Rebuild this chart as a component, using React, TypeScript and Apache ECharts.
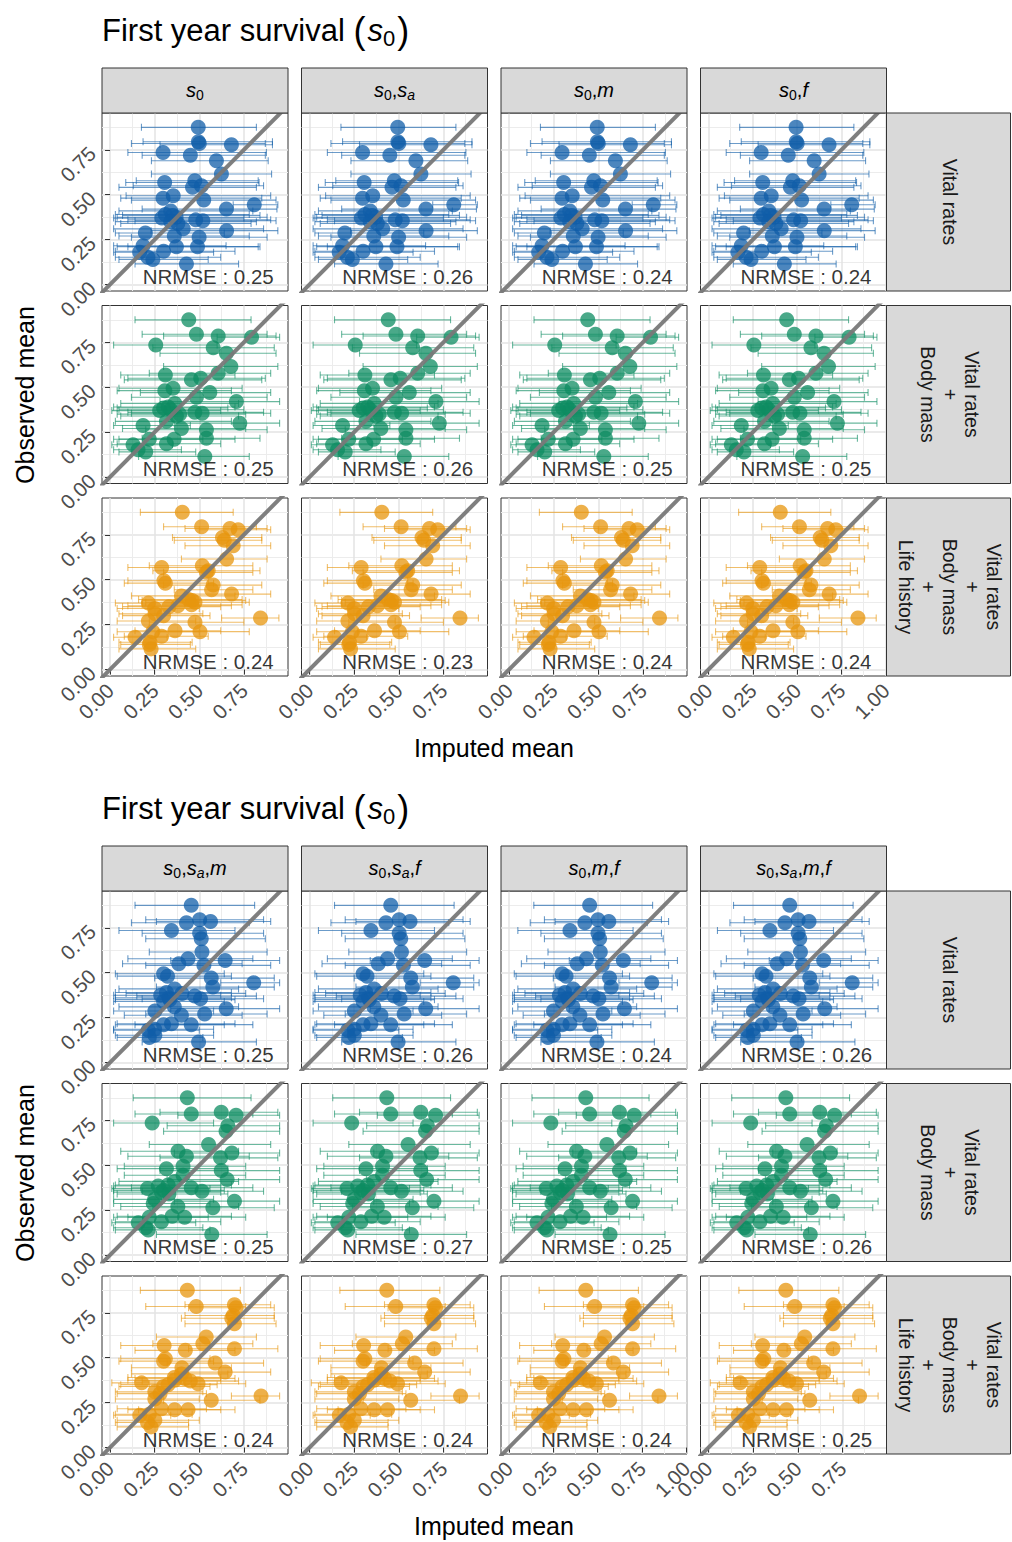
import React, { useEffect, useRef } from 'react';
import * as echarts from 'echarts';

const FONT = '"Liberation Sans", Arial, Helvetica, sans-serif';

// Observed mean (same species set in every panel)
const observed = [0.875, 0.795, 0.785, 0.778, 0.735, 0.72, 0.689, 0.615, 0.578, 0.568, 0.55, 0.541, 0.494, 0.481, 0.47, 0.444, 0.42, 0.41, 0.39, 0.385, 0.375, 0.37, 0.36, 0.355, 0.35, 0.34, 0.31, 0.30, 0.287, 0.27, 0.263, 0.216, 0.211, 0.21, 0.185, 0.18, 0.152, 0.14, 0.115];

// Figure 1 imputed means and interval bounds
const f1VitalMean = [0.494, 0.495, 0.50, 0.68, 0.297, 0.45, 0.596, 0.624, 0.475, 0.306, 0.512, 0.462, 0.354, 0.297, 0.525, 0.808, 0.652, 0.34, 0.31, 0.35, 0.37, 0.29, 0.48, 0.52, 0.34, 0.38, 0.41, 0.653, 0.198, 0.36, 0.499, 0.185, 0.372, 0.49, 0.30, 0.166, 0.212, 0.24, 0.428];
const f1VitalLo = [0.176, 0.185, 0.12, 0.28, 0.10, 0.18, 0.232, 0.232, 0.147, 0.088, 0.13, 0.05, 0.09, 0.06, 0.12, 0.69, 0.18, 0.05, 0.03, 0.07, 0.04, 0.02, 0.10, 0.14, 0.03, 0.06, 0.02, 0.23, 0.03, 0.05, 0.12, 0.02, 0.04, 0.10, 0.03, 0.02, 0.03, 0.05, 0.14];
const f1VitalHi = [0.82, 0.91, 0.87, 0.91, 0.876, 0.87, 0.886, 0.905, 0.83, 0.835, 0.86, 0.82, 0.90, 0.85, 0.93, 0.94, 0.935, 0.80, 0.78, 0.84, 0.88, 0.75, 0.90, 0.93, 0.82, 0.79, 0.86, 0.94, 0.64, 0.78, 0.88, 0.65, 0.83, 0.84, 0.70, 0.58, 0.62, 0.55, 0.72];

const f1BodyMean = [0.441, 0.484, 0.606, 0.793, 0.256, 0.578, 0.652, 0.677, 0.606, 0.31, 0.508, 0.456, 0.353, 0.307, 0.559, 0.484, 0.708, 0.363, 0.325, 0.30, 0.34, 0.278, 0.475, 0.516, 0.39, 0.372, 0.316, 0.727, 0.185, 0.40, 0.54, 0.54, 0.359, 0.22, 0.316, 0.129, 0.157, 0.20, 0.531];
const f1BodyLo = [0.14, 0.18, 0.30, 0.60, 0.02, 0.24, 0.28, 0.30, 0.22, 0.06, 0.10, 0.08, 0.05, 0.04, 0.17, 0.12, 0.28, 0.06, 0.02, 0.04, 0.05, 0.01, 0.10, 0.12, 0.04, 0.06, 0.03, 0.36, 0.02, 0.07, 0.20, 0.18, 0.05, 0.02, 0.04, 0.01, 0.02, 0.05, 0.16];
const f1BodyHi = [0.79, 0.88, 0.93, 0.95, 0.60, 0.92, 0.93, 0.94, 0.90, 0.70, 0.87, 0.85, 0.74, 0.68, 0.90, 0.88, 0.95, 0.72, 0.70, 0.66, 0.75, 0.62, 0.86, 0.90, 0.76, 0.72, 0.68, 0.95, 0.45, 0.76, 0.88, 0.84, 0.70, 0.52, 0.62, 0.35, 0.40, 0.48, 0.78];

const f1LifeMean = [0.405, 0.513, 0.672, 0.718, 0.63, 0.64, 0.69, 0.653, 0.517, 0.289, 0.55, 0.54, 0.302, 0.31, 0.578, 0.569, 0.681, 0.40, 0.44, 0.46, 0.476, 0.215, 0.457, 0.38, 0.33, 0.25, 0.252, 0.30, 0.843, 0.215, 0.476, 0.364, 0.504, 0.24, 0.289, 0.14, 0.224, 0.22, 0.23];
const f1LifeLo = [0.17, 0.30, 0.42, 0.50, 0.35, 0.36, 0.42, 0.40, 0.22, 0.10, 0.24, 0.30, 0.10, 0.08, 0.30, 0.36, 0.42, 0.12, 0.16, 0.18, 0.20, 0.03, 0.18, 0.10, 0.07, 0.04, 0.05, 0.07, 0.625, 0.04, 0.22, 0.14, 0.27, 0.04, 0.08, 0.02, 0.05, 0.06, 0.05];
const f1LifeHi = [0.69, 0.82, 0.88, 0.90, 0.85, 0.85, 0.90, 0.88, 0.80, 0.58, 0.84, 0.80, 0.55, 0.58, 0.85, 0.80, 0.90, 0.70, 0.74, 0.76, 0.78, 0.48, 0.74, 0.68, 0.62, 0.50, 0.52, 0.56, 0.946, 0.48, 0.75, 0.62, 0.78, 0.50, 0.55, 0.32, 0.46, 0.45, 0.48];

// Figure 2 imputed means and interval bounds
const f2VitalMean = [0.455, 0.502, 0.563, 0.428, 0.344, 0.502, 0.511, 0.515, 0.437, 0.645, 0.385, 0.526, 0.30, 0.322, 0.567, 0.805, 0.576, 0.362, 0.316, 0.403, 0.284, 0.474, 0.33, 0.507, 0.335, 0.30, 0.36, 0.651, 0.251, 0.53, 0.40, 0.344, 0.455, 0.30, 0.25, 0.214, 0.251, 0.22, 0.496];
const f2VitalLo = [0.14, 0.20, 0.26, 0.12, 0.05, 0.18, 0.20, 0.22, 0.10, 0.34, 0.07, 0.20, 0.03, 0.04, 0.25, 0.62, 0.26, 0.05, 0.03, 0.09, 0.02, 0.15, 0.03, 0.18, 0.03, 0.02, 0.05, 0.34, 0.02, 0.20, 0.08, 0.04, 0.14, 0.03, 0.02, 0.02, 0.03, 0.04, 0.18];
const f2VitalHi = [0.81, 0.86, 0.90, 0.78, 0.70, 0.86, 0.87, 0.88, 0.80, 0.95, 0.74, 0.90, 0.64, 0.68, 0.92, 0.95, 0.92, 0.72, 0.68, 0.76, 0.62, 0.82, 0.68, 0.86, 0.70, 0.64, 0.72, 0.95, 0.58, 0.88, 0.74, 0.70, 0.80, 0.64, 0.58, 0.50, 0.58, 0.52, 0.82];

const f2BodyMean = [0.433, 0.623, 0.455, 0.706, 0.236, 0.66, 0.65, 0.552, 0.381, 0.682, 0.428, 0.619, 0.409, 0.316, 0.623, 0.409, 0.656, 0.362, 0.325, 0.27, 0.455, 0.21, 0.30, 0.515, 0.288, 0.33, 0.25, 0.697, 0.242, 0.38, 0.576, 0.348, 0.418, 0.22, 0.288, 0.158, 0.20, 0.214, 0.57];
const f2BodyLo = [0.13, 0.28, 0.14, 0.38, 0.02, 0.32, 0.30, 0.22, 0.06, 0.36, 0.10, 0.28, 0.08, 0.04, 0.28, 0.08, 0.32, 0.05, 0.03, 0.02, 0.12, 0.01, 0.02, 0.18, 0.02, 0.04, 0.02, 0.36, 0.02, 0.06, 0.24, 0.04, 0.10, 0.02, 0.03, 0.01, 0.02, 0.03, 0.26];
const f2BodyHi = [0.79, 0.94, 0.80, 0.95, 0.58, 0.95, 0.95, 0.90, 0.72, 0.95, 0.78, 0.94, 0.76, 0.66, 0.95, 0.76, 0.95, 0.72, 0.68, 0.62, 0.80, 0.56, 0.64, 0.86, 0.62, 0.66, 0.58, 0.95, 0.56, 0.72, 0.92, 0.68, 0.76, 0.55, 0.62, 0.48, 0.52, 0.56, 0.88];

const f2LifeMean = [0.433, 0.697, 0.483, 0.706, 0.69, 0.682, 0.697, 0.539, 0.52, 0.303, 0.697, 0.422, 0.31, 0.30, 0.589, 0.403, 0.645, 0.40, 0.36, 0.42, 0.362, 0.45, 0.177, 0.493, 0.325, 0.30, 0.251, 0.28, 0.846, 0.251, 0.567, 0.288, 0.362, 0.437, 0.22, 0.167, 0.251, 0.21, 0.23];
const f2LifeLo = [0.17, 0.42, 0.20, 0.44, 0.42, 0.40, 0.42, 0.26, 0.24, 0.06, 0.44, 0.14, 0.06, 0.05, 0.32, 0.12, 0.38, 0.12, 0.10, 0.14, 0.10, 0.18, 0.01, 0.22, 0.06, 0.05, 0.03, 0.04, 0.68, 0.03, 0.30, 0.04, 0.10, 0.16, 0.03, 0.02, 0.04, 0.03, 0.04];
const f2LifeHi = [0.73, 0.90, 0.76, 0.92, 0.92, 0.92, 0.93, 0.82, 0.80, 0.56, 0.94, 0.70, 0.56, 0.58, 0.86, 0.68, 0.90, 0.66, 0.62, 0.70, 0.62, 0.72, 0.42, 0.76, 0.60, 0.56, 0.52, 0.54, 0.95, 0.50, 0.84, 0.54, 0.62, 0.70, 0.46, 0.34, 0.50, 0.44, 0.44];

// NRMSE labels [row][column]
const f1Nrmse = [['0.25', '0.26', '0.24', '0.24'], ['0.25', '0.26', '0.25', '0.25'], ['0.24', '0.23', '0.24', '0.24']];
const f2Nrmse = [['0.25', '0.26', '0.24', '0.26'], ['0.25', '0.27', '0.25', '0.26'], ['0.24', '0.24', '0.24', '0.25']];

// Facet labels
const f1Columns = ['{i|s}{sub|0}', '{i|s}{sub|0}{n|,}{i|s}{subi|a}', '{i|s}{sub|0}{n|,}{i|m}', '{i|s}{sub|0}{n|,}{i|f}'];
const f2Columns = ['{i|s}{sub|0}{n|,}{i|s}{subi|a}{n|,}{i|m}', '{i|s}{sub|0}{n|,}{i|s}{subi|a}{n|,}{i|f}', '{i|s}{sub|0}{n|,}{i|m}{n|,}{i|f}', '{i|s}{sub|0}{n|,}{i|s}{subi|a}{n|,}{i|m}{n|,}{i|f}'];
const rowLabels = ['Vital rates', 'Vital rates\n+\nBody mass', 'Vital rates\n+\nBody mass\n+\nLife history'];

// Axis ticks
const majorTicks = [0, 0.25, 0.5, 0.75];
const majorTicksWithOne = [0, 0.25, 0.5, 0.75, 1.0];
const minorTicks = [0.125, 0.375, 0.625, 0.875];
// which column of each figure reaches 1.00 on its free x scale
const f1ColReachesOne = [false, false, false, true];
const f2ColReachesOne = [false, false, true, false];

const rowColors = ['rgb(16,94,168)', 'rgb(14,140,98)', 'rgb(231,150,14)'];

const X_MIN = -0.045;
const Y_MIN = -0.036;
const Y_MAX = 0.955;

const figures = [
  { mean: [f1VitalMean, f1BodyMean, f1LifeMean], lo: [f1VitalLo, f1BodyLo, f1LifeLo], hi: [f1VitalHi, f1BodyHi, f1LifeHi], nrmse: f1Nrmse, cols: f1Columns, one: f1ColReachesOne },
  { mean: [f2VitalMean, f2BodyMean, f2LifeMean], lo: [f2VitalLo, f2BodyLo, f2LifeLo], hi: [f2VitalHi, f2BodyHi, f2LifeHi], nrmse: f2Nrmse, cols: f2Columns, one: f2ColReachesOne },
];

// Layout
const PANEL_W = 186;
const PANEL_H = 178;
const COL_LEFT = [102, 301.5, 501, 700.5];
const ROW_TOP = [113, 305.5, 498];
const FIG_OFF = [0, 778];

function buildOption() {
  const grid: any[] = [];
  const xAxis: any[] = [];
  const yAxis: any[] = [];
  const series: any[] = [];
  const graphic: any[] = [];

  const stripRich = {
    i: { fontFamily: FONT, fontSize: 20, fontStyle: 'italic', lineHeight: 24, color: '#1A1A1A' },
    n: { fontFamily: FONT, fontSize: 20, lineHeight: 24, color: '#1A1A1A' },
    sub: { fontFamily: FONT, fontSize: 14, lineHeight: 15, verticalAlign: 'bottom', color: '#1A1A1A' },
    subi: { fontFamily: FONT, fontSize: 14, fontStyle: 'italic', lineHeight: 15, verticalAlign: 'bottom', color: '#1A1A1A' },
  };
  const titleRich = {
    t: { fontFamily: FONT, fontSize: 31, lineHeight: 38, color: '#000' },
    p: { fontFamily: FONT, fontSize: 36, lineHeight: 38, color: '#000' },
    ti: { fontFamily: FONT, fontSize: 31, fontStyle: 'italic', lineHeight: 38, color: '#000', padding: [0, 0, 0, 2] },
    ts: { fontFamily: FONT, fontSize: 22, lineHeight: 17, verticalAlign: 'bottom', color: '#000', padding: [0, 2, 0, 0] },
  };

  figures.forEach((fig, f) => {
    const off = FIG_OFF[f];
    graphic.push({
      type: 'text', x: 102, y: 30 + off, z: 10,
      style: { text: '{t|First year survival }{p|(}{ti|s}{ts|0}{p|)}', rich: titleRich, verticalAlign: 'middle', align: 'left' },
    });
    graphic.push({
      type: 'text', x: 494, y: 748 + off, z: 10,
      style: { text: 'Imputed mean', fontFamily: FONT, fontSize: 25, fill: '#000', align: 'center', verticalAlign: 'middle' },
    });
    graphic.push({
      type: 'text', x: 25, y: 395 + off, rotation: Math.PI / 2, z: 10,
      style: { text: 'Observed mean', fontFamily: FONT, fontSize: 25, fill: '#000', align: 'center', verticalAlign: 'middle' },
    });
    for (let c = 0; c < 4; c++) {
      graphic.push({
        type: 'rect', z: 5,
        shape: { x: COL_LEFT[c], y: 68 + off, width: PANEL_W, height: 45 },
        style: { fill: '#D9D9D9', stroke: '#333333', lineWidth: 1 },
      });
      graphic.push({
        type: 'text', x: COL_LEFT[c] + PANEL_W / 2, y: 90 + off, z: 6,
        style: { text: fig.cols[c], rich: stripRich, align: 'center', verticalAlign: 'middle' },
      });
    }
    for (let r = 0; r < 3; r++) {
      const top = ROW_TOP[r] + off;
      graphic.push({
        type: 'rect', z: 5,
        shape: { x: 886.5, y: top, width: 124, height: PANEL_H },
        style: { fill: '#D9D9D9', stroke: '#333333', lineWidth: 1 },
      });
      graphic.push({
        type: 'text', x: 950, y: top + PANEL_H / 2, rotation: -Math.PI / 2, z: 6,
        style: { text: rowLabels[r], fontFamily: FONT, fontSize: 19.5, lineHeight: 22, fill: '#1A1A1A', align: 'center', verticalAlign: 'middle' },
      });
    }

    for (let r = 0; r < 3; r++) {
      for (let c = 0; c < 4; c++) {
        const p = grid.length;
        const color = rowColors[r];
        const xMax = fig.one[c] ? 1.004 : 0.997;
        const xTicks = fig.one[c] ? majorTicksWithOne : majorTicks;
        grid.push({
          left: COL_LEFT[c], top: ROW_TOP[r] + off, width: PANEL_W, height: PANEL_H,
          show: true, borderColor: '#333333', borderWidth: 1, backgroundColor: '#FFFFFF', containLabel: false,
        });
        xAxis.push({
          gridIndex: p, type: 'value', min: X_MIN, max: xMax, position: 'bottom',
          axisLine: { show: false },
          axisTick: { show: r === 2, length: 5, lineStyle: { color: '#333333', width: 1 }, customValues: xTicks },
          axisLabel: {
            show: r === 2, customValues: xTicks, rotate: 45, margin: 11, fontSize: 20.5, color: '#4D4D4D', fontFamily: FONT,
            formatter: (v: number) => v.toFixed(2),
          },
          splitLine: { show: true, lineStyle: { color: '#E3E3E3', width: 1.5 } },
        });
        xAxis.push({
          gridIndex: p, type: 'value', min: X_MIN, max: xMax, position: 'top',
          axisLine: { show: false },
          axisTick: { show: false, customValues: minorTicks },
          axisLabel: { show: false, customValues: minorTicks },
          splitLine: { show: true, lineStyle: { color: '#ECECEC', width: 1 } },
        });
        yAxis.push({
          gridIndex: p, type: 'value', min: Y_MIN, max: Y_MAX, position: 'left',
          axisLine: { show: false },
          axisTick: { show: c === 0, length: 5, lineStyle: { color: '#333333', width: 1 }, customValues: majorTicks },
          axisLabel: {
            show: c === 0, customValues: majorTicks, rotate: 45, margin: 10, fontSize: 20.5, color: '#4D4D4D', fontFamily: FONT,
            formatter: (v: number) => v.toFixed(2),
          },
          splitLine: { show: true, lineStyle: { color: '#E3E3E3', width: 1.5 } },
        });
        yAxis.push({
          gridIndex: p, type: 'value', min: Y_MIN, max: Y_MAX, position: 'right',
          axisLine: { show: false },
          axisTick: { show: false, customValues: minorTicks },
          axisLabel: { show: false, customValues: minorTicks },
          splitLine: { show: true, lineStyle: { color: '#ECECEC', width: 1 } },
        });

        const mean = fig.mean[r];
        const lo = fig.lo[r];
        const hi = fig.hi[r];
        const n = Math.min(observed.length, mean.length, lo.length, hi.length);
        const barData: number[][] = [];
        const ptData: number[][] = [];
        for (let i = 0; i < n; i++) {
          barData.push([lo[i], hi[i], observed[i]]);
          ptData.push([mean[i], observed[i]]);
        }
        series.push({
          type: 'custom', xAxisIndex: 2 * p, yAxisIndex: 2 * p, data: barData, clip: true, silent: true, z: 2,
          encode: { x: [0, 1], y: 2 },
          renderItem: (params: any, api: any) => {
            const yv = api.value(2);
            const a = api.coord([api.value(0), yv]);
            const b = api.coord([api.value(1), yv]);
            const st = { stroke: color, lineWidth: 1.1, opacity: 0.62 };
            const h = 3.5;
            return {
              type: 'group',
              children: [
                { type: 'line', shape: { x1: a[0], y1: a[1], x2: b[0], y2: b[1] }, style: st },
                { type: 'line', shape: { x1: a[0], y1: a[1] - h, x2: a[0], y2: a[1] + h }, style: st },
                { type: 'line', shape: { x1: b[0], y1: b[1] - h, x2: b[0], y2: b[1] + h }, style: st },
              ],
            };
          },
        });
        series.push({
          type: 'scatter', xAxisIndex: 2 * p, yAxisIndex: 2 * p, data: ptData, silent: true, z: 3,
          symbol: 'circle', symbolSize: 15, itemStyle: { color, opacity: 0.75 },
        });
        series.push({
          type: 'line', xAxisIndex: 2 * p, yAxisIndex: 2 * p, data: [[-0.2, -0.2], [1.2, 1.2]], silent: true, z: 4,
          symbol: 'none', clip: true, lineStyle: { color: 'rgba(120,120,120,0.95)', width: 4 },
        });
        series.push({
          type: 'scatter', xAxisIndex: 2 * p, yAxisIndex: 2 * p, data: [[0.55, 0.045]], silent: true, z: 5,
          symbolSize: 1, itemStyle: { color: 'rgba(0,0,0,0)' },
          label: {
            show: true, position: 'inside', formatter: 'NRMSE : ' + fig.nrmse[r][c],
            fontSize: 20.5, color: '#000000', fontFamily: FONT,
          },
        });
      }
    }
  });

  return {
    animation: false,
    backgroundColor: '#FFFFFF',
    textStyle: { fontFamily: FONT },
    grid, xAxis, yAxis, series, graphic,
  };
}

export default function App() {
  const ref = useRef<HTMLDivElement>(null);
  useEffect(() => {
    if (!ref.current) return;
    const chart = echarts.init(ref.current, null, { renderer: 'svg' });
    chart.setOption(buildOption() as any);
    return () => chart.dispose();
  }, []);
  return <div ref={ref} style={{ position: 'absolute', left: 0, top: 0, width: 1012, height: 1542 }} />;
}
